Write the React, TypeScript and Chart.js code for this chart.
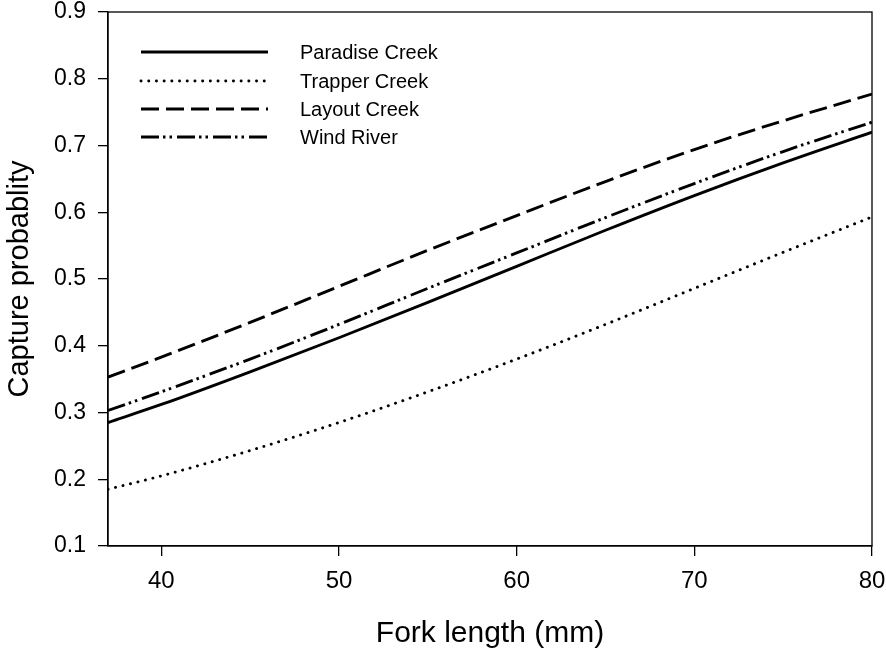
import React, { useEffect, useRef } from "react";
import { Chart, registerables } from "chart.js";

Chart.register(...registerables);

const forkLength = [37, 40, 45, 50, 55, 60, 65, 70, 75, 80];
const paradiseCreek = [0.285, 0.312, 0.361, 0.412, 0.465, 0.519, 0.573, 0.625, 0.674, 0.72];
const trapperCreek = [0.185, 0.205, 0.243, 0.285, 0.331, 0.38, 0.432, 0.486, 0.54, 0.593];
const layoutCreek = [0.353, 0.383, 0.435, 0.489, 0.543, 0.595, 0.646, 0.694, 0.737, 0.777];
const windRiver = [0.303, 0.331, 0.38, 0.432, 0.486, 0.539, 0.592, 0.643, 0.691, 0.735];

const seriesLabels = ["Paradise Creek", "Trapper Creek", "Layout Creek", "Wind River"];
const xTicks = [40, 50, 60, 70, 80];
const yTicks = [0.1, 0.2, 0.3, 0.4, 0.5, 0.6, 0.7, 0.8, 0.9];

const FONT = "'Liberation Sans', Arial, sans-serif";

const styles = [
  { dash: [] as number[], cap: "butt" },
  { dash: [0.1, 7.6], cap: "round" },
  { dash: [18, 7], cap: "butt" },
  { dash: [18, 4, 2.5, 4, 2.5, 5], cap: "butt" },
];

const framePlugin = {
  id: "frameAndLegend",
  afterDatasetsDraw(chart: any) {
    const { ctx, chartArea } = chart;
    ctx.save();
    ctx.strokeStyle = "#000";
    ctx.lineWidth = 1.3;
    ctx.strokeRect(chartArea.left, chartArea.top, chartArea.right - chartArea.left, chartArea.bottom - chartArea.top);
    const ys = [52, 81, 109, 137];
    chart.data.datasets.forEach((ds: any, i: number) => {
      const y = ys[i];
      ctx.beginPath();
      ctx.lineWidth = ds.borderWidth;
      ctx.setLineDash(ds.borderDash || []);
      ctx.lineCap = ds.borderCapStyle || "butt";
      ctx.moveTo(141, y);
      ctx.lineTo(268, y);
      ctx.stroke();
      ctx.setLineDash([]);
      ctx.fillStyle = "#000";
      ctx.font = `20px ${FONT}`;
      ctx.textBaseline = "middle";
      ctx.textAlign = "left";
      ctx.fillText(ds.label, 300, y + 1);
    });
    ctx.restore();
  },
};

export default function App() {
  const ref = useRef<HTMLCanvasElement | null>(null);
  useEffect(() => {
    if (!ref.current) return;
    const seriesValues = [paradiseCreek, trapperCreek, layoutCreek, windRiver];
    const chart = new Chart(ref.current, {
      type: "line",
      data: {
        datasets: seriesValues.map((vals, i) => ({
          label: seriesLabels[i],
          data: forkLength.map((x, j) => ({ x, y: vals[j] })),
          borderColor: "#000",
          backgroundColor: "#000",
          borderWidth: 2.9,
          borderDash: styles[i].dash,
          borderCapStyle: styles[i].cap as any,
          pointRadius: 0,
          tension: 0.4,
          cubicInterpolationMode: "monotone",
          fill: false,
        })),
      },
      options: {
        animation: false,
        responsive: false,
        layout: { padding: { top: 12, right: 14, left: 0, bottom: 0 } },
        plugins: { legend: { display: false }, tooltip: { enabled: false } },
        scales: {
          x: {
            type: "linear",
            min: 37,
            max: 80,
            afterBuildTicks: (s: any) => {
              s.ticks = xTicks.map((v) => ({ value: v }));
            },
            afterFit: (s: any) => {
              s.height = 107;
              s.paddingLeft = 0;
              s.paddingRight = 0;
            },
            grid: { drawOnChartArea: false, drawTicks: true, tickLength: 10, color: "#000", lineWidth: 1.3 },
            border: { display: true, color: "#000", width: 1.3 },
            ticks: {
              color: "#000",
              font: { family: FONT, size: 24 },
              padding: 11,
              maxRotation: 0,
              callback: (v: any) => String(v),
            },
            title: {
              display: true,
              text: "Fork length (mm)",
              color: "#000",
              font: { family: FONT, size: 30 },
              padding: { top: 1, bottom: 1 },
            },
          },
          y: {
            type: "linear",
            min: 0.1,
            max: 0.9,
            afterBuildTicks: (s: any) => {
              s.ticks = yTicks.map((v) => ({ value: v }));
            },
            afterFit: (s: any) => {
              s.width = 108;
              s.paddingTop = 0;
              s.paddingBottom = 0;
            },
            grid: { drawOnChartArea: false, drawTicks: true, tickLength: 10, color: "#000", lineWidth: 1.3 },
            border: { display: true, color: "#000", width: 1.3 },
            ticks: {
              color: "#000",
              font: { family: FONT, size: 23 },
              padding: 12,
              callback: (v: any) => Number(v).toFixed(1),
            },
            title: {
              display: true,
              text: "Capture probablity",
              color: "#000",
              font: { family: FONT, size: 29 },
              padding: { top: 3, bottom: 3 },
            },
          },
        },
      },
      plugins: [framePlugin],
    });
    return () => chart.destroy();
  }, []);
  return (
    <div style={{ position: "fixed", left: 0, top: 0, width: 886, height: 653, background: "#fff" }}>
      <canvas ref={ref} width={886} height={653} />
    </div>
  );
}
